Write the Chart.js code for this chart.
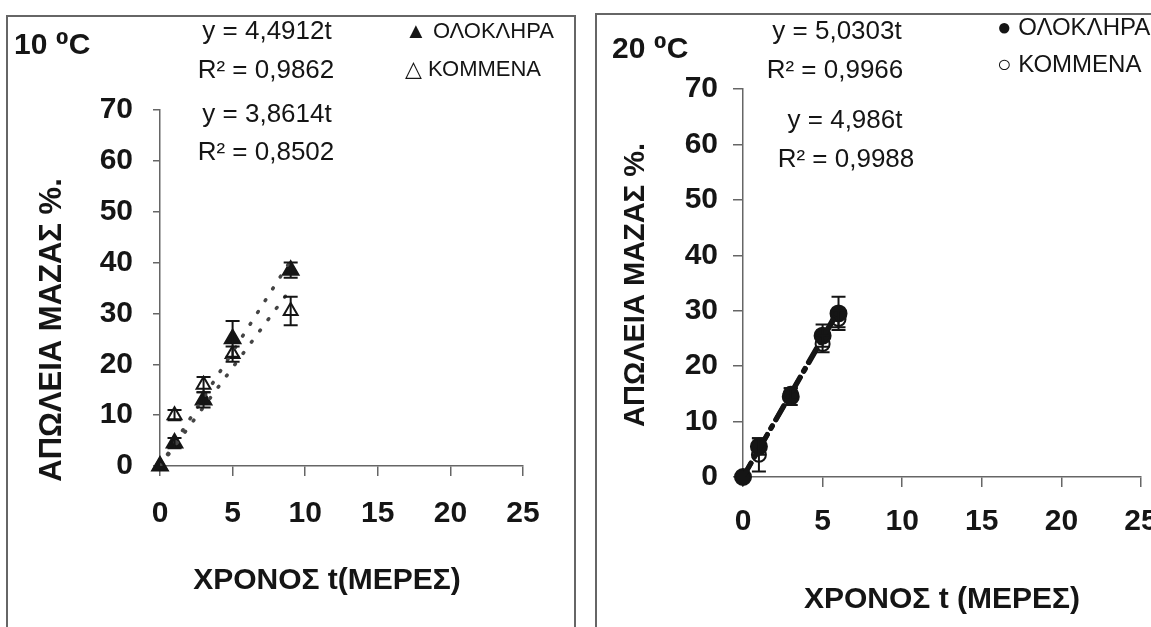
<!DOCTYPE html>
<html>
<head>
<meta charset="utf-8">
<script src="https://cdn.jsdelivr.net/npm/chart.js@4.4.1/dist/chart.umd.min.js"></script>
<style>
  html, body { margin: 0; padding: 0; background: #fff; width: 1151px; height: 627px; overflow: hidden; position: relative; }
  .box { position: absolute; border: 2px solid #666; box-sizing: border-box; }
  #box10 { left: 6px; top: 15px; width: 570px; height: 640px; }
  #box20 { left: 595px; top: 13px; width: 600px; height: 640px; }
  canvas { position: absolute; top: 0; }
  #c10 { left: 0; }
  #c20 { left: 580px; }
</style>
</head>
<body>
<div class="box" id="box10"></div>
<div class="box" id="box20"></div>
<canvas id="c10" width="578" height="627"></canvas>
<canvas id="c20" width="571" height="627"></canvas>
<script>
// 10 oC - days and mass loss %
const days10 = [0, 1, 3, 5, 9];
const whole10 = [0, 4.5, 13, 25, 38.5];
const whole10Err = [0, 1, 1.5, 3.5, 1.5];
const cut10 = [0, 10, 16, 22, 30.5];
const cut10Err = [0, 1, 1.5, 1.5, 2.8];
// fitted lines (y = 4,4912t and y = 3,8614t)
const trendDays10 = [0, 9];
const trendWhole10 = [0, 40.4];
const trendCut10 = [0, 34.8];

// 20 oC
const days20 = [0, 1, 3, 5, 6];
const whole20 = [0, 5.5, 14.5, 25.5, 29.5];
const whole20Err = [0, 1.5, 1.5, 2, 3];
const cut20 = [0, 4, 15, 24, 28.5];
const cut20Err = [0, 3, 1, 1.5, 1.5];
// fitted lines (y = 5,0303t and y = 4,986t)
const trendDays20 = [0, 6];
const trendWhole20 = [0, 30.2];
const trendCut20 = [0, 29.9];

const xTicks = [0, 5, 10, 15, 20, 25];
const yTicks = [0, 10, 20, 30, 40, 50, 60, 70];

const INK = '#151515';
const AXIS = '#666';

function pts(xs, ys) {
  return xs.map((v, i) => ({ x: v, y: ys[i] }));
}

// vertical error bars, drawn through the chart scales
const errorBars = {
  id: 'errorBars',
  afterDatasetsDraw(chart) {
    const { ctx, scales: { x, y } } = chart;
    chart.data.datasets.forEach((ds) => {
      if (!ds.errors) return;
      ctx.save();
      ctx.strokeStyle = INK;
      ctx.lineWidth = 2;
      ds.data.forEach((p, j) => {
        const e = ds.errors[j];
        if (!e) return;
        const px = x.getPixelForValue(p.x);
        const top = y.getPixelForValue(p.y + e);
        const bot = y.getPixelForValue(p.y - e);
        ctx.beginPath();
        ctx.moveTo(px, top); ctx.lineTo(px, bot);
        ctx.moveTo(px - 7, top); ctx.lineTo(px + 7, top);
        ctx.moveTo(px - 7, bot); ctx.lineTo(px + 7, bot);
        ctx.stroke();
      });
      ctx.restore();
    });
  }
};

// free text: temperature, equations, legend, axis titles
const labels = {
  id: 'labels',
  afterDraw(chart, args, opts) {
    const ctx = chart.ctx;
    (opts.items || []).forEach((t) => {
      ctx.save();
      ctx.font = t.font;
      ctx.fillStyle = INK;
      ctx.textAlign = t.align || 'center';
      ctx.textBaseline = 'middle';
      ctx.translate(t.x, t.y);
      if (t.rotate) ctx.rotate(t.rotate);
      ctx.fillText(t.text, 0, 0);
      ctx.restore();
    });
  }
};

function makeChart(id, cfg) {
  const scatterBase = { showLine: false, borderColor: INK, borderWidth: 2, clip: false };
  return new Chart(document.getElementById(id), {
    type: 'scatter',
    data: {
      datasets: [
        { label: 'trend1', data: pts(cfg.trendDays, cfg.trendWhole), showLine: true, pointRadius: 0,
          borderColor: cfg.trendColor, borderWidth: cfg.trendWidth, borderDash: cfg.dash, borderCapStyle: 'round' },
        { label: 'trend2', data: pts(cfg.trendDays, cfg.trendCut), showLine: true, pointRadius: 0,
          borderColor: cfg.trendColor, borderWidth: cfg.trendWidth, borderDash: cfg.dash, borderCapStyle: 'round' },
        Object.assign({ label: 'ΟΛΟΚΛΗΡΑ', data: pts(cfg.days, cfg.whole), errors: cfg.wholeErr,
          pointStyle: cfg.marker, pointRadius: cfg.radius, backgroundColor: INK }, scatterBase),
        Object.assign({ label: 'ΚΟΜΜΕΝΑ', data: pts(cfg.days, cfg.cut), errors: cfg.cutErr,
          pointStyle: cfg.marker, pointRadius: cfg.radius - 1, backgroundColor: '#fff' }, scatterBase)
      ]
    },
    options: {
      responsive: false,
      animation: false,
      devicePixelRatio: 1,
      layout: { padding: { left: 0, top: cfg.top, right: cfg.right, bottom: 0 } },
      plugins: {
        legend: { display: false },
        tooltip: { enabled: false },
        labels: { items: cfg.texts }
      },
      scales: {
        x: {
          type: 'linear', min: 0, max: 25,
          afterBuildTicks: (s) => { s.ticks = xTicks.map((v) => ({ value: v })); },
          ticks: { color: INK, font: { family: 'Liberation Sans', weight: 'bold', size: 30 }, padding: cfg.xPad },
          grid: { display: true, drawOnChartArea: false, drawTicks: true, tickLength: 10, color: AXIS, lineWidth: 1.5 },
          border: { display: true, color: AXIS, width: 1.5 },
          afterFit: (s) => { s.height = cfg.xHeight; s.paddingLeft = 0; s.paddingRight = 0; }
        },
        y: {
          type: 'linear', min: 0, max: 70,
          afterBuildTicks: (s) => { s.ticks = yTicks.map((v) => ({ value: v })); },
          ticks: { color: INK, font: { family: 'Liberation Sans', weight: 'bold', size: 30 }, padding: cfg.yPad },
          grid: { display: true, drawOnChartArea: false, drawTicks: true, tickLength: cfg.yTick, color: AXIS, lineWidth: 1.5 },
          border: { display: true, color: AXIS, width: 1.5 },
          afterFit: (s) => { s.width = cfg.yWidth; s.paddingTop = 0; s.paddingBottom = 0; }
        }
      }
    },
    plugins: [errorBars, labels]
  });
}

const bold = (n) => 'bold ' + n + 'px "Liberation Sans", "DejaVu Sans", sans-serif';
const reg = (n) => n + 'px "Liberation Sans", "DejaVu Sans", sans-serif';

makeChart('c10', {
  days: days10, whole: whole10, wholeErr: whole10Err, cut: cut10, cutErr: cut10Err,
  trendDays: trendDays10, trendWhole: trendWhole10, trendCut: trendCut10,
  marker: 'triangle', radius: 9, trendColor: '#444', trendWidth: 3.5, dash: [1, 13],
  top: 110, right: 55, xHeight: 161, yWidth: 160, yTick: 7, yPad: 20, xPad: 20,
  texts: [
    { text: '10 ⁰C', x: 14, y: 46, font: bold(30), align: 'left' },
    { text: 'y = 4,4912t', x: 267, y: 32, font: reg(26) },
    { text: 'R² = 0,9862', x: 266, y: 71, font: reg(26) },
    { text: 'y = 3,8614t', x: 267, y: 115, font: reg(26) },
    { text: 'R² = 0,8502', x: 266, y: 153, font: reg(26) },
    { text: '▲ ΟΛΟΚΛΗΡΑ', x: 405, y: 32, font: reg(22), align: 'left' },
    { text: '△ ΚΟΜΜΕΝΑ', x: 405, y: 70, font: reg(22), align: 'left' },
    { text: 'ΑΠΩΛΕΙΑ ΜΑΖΑΣ %.', x: 52, y: 330, font: bold(31), rotate: -Math.PI / 2 },
    { text: 'ΧΡΟΝΟΣ t(ΜΕΡΕΣ)', x: 327, y: 581, font: bold(30) }
  ]
});

makeChart('c20', {
  days: days20, whole: whole20, wholeErr: whole20Err, cut: cut20, cutErr: cut20Err,
  trendDays: trendDays20, trendWhole: trendWhole20, trendCut: trendCut20,
  marker: 'circle', radius: 8, trendColor: INK, trendWidth: 5, dash: [16, 7, 3, 7],
  top: 89, right: 10, xHeight: 150, yWidth: 163, yTick: 10, yPad: 15, xPad: 17,
  texts: [
    { text: '20 ⁰C', x: 32, y: 50, font: bold(30), align: 'left' },
    { text: 'y = 5,0303t', x: 257, y: 32, font: reg(26) },
    { text: 'R² = 0,9966', x: 255, y: 71, font: reg(26) },
    { text: 'y = 4,986t', x: 265, y: 121, font: reg(26) },
    { text: 'R² = 0,9988', x: 266, y: 160, font: reg(26) },
    { text: '● ΟΛΟΚΛΗΡΑ', x: 417, y: 28, font: reg(24), align: 'left' },
    { text: '○ ΚΟΜΜΕΝΑ', x: 417, y: 65, font: reg(24), align: 'left' },
    { text: 'ΑΠΩΛΕΙΑ ΜΑΖΑΣ %.', x: 56, y: 285, font: bold(29), rotate: -Math.PI / 2 },
    { text: 'ΧΡΟΝΟΣ t (ΜΕΡΕΣ)', x: 362, y: 600, font: bold(30) }
  ]
});
</script>
</body>
</html>
